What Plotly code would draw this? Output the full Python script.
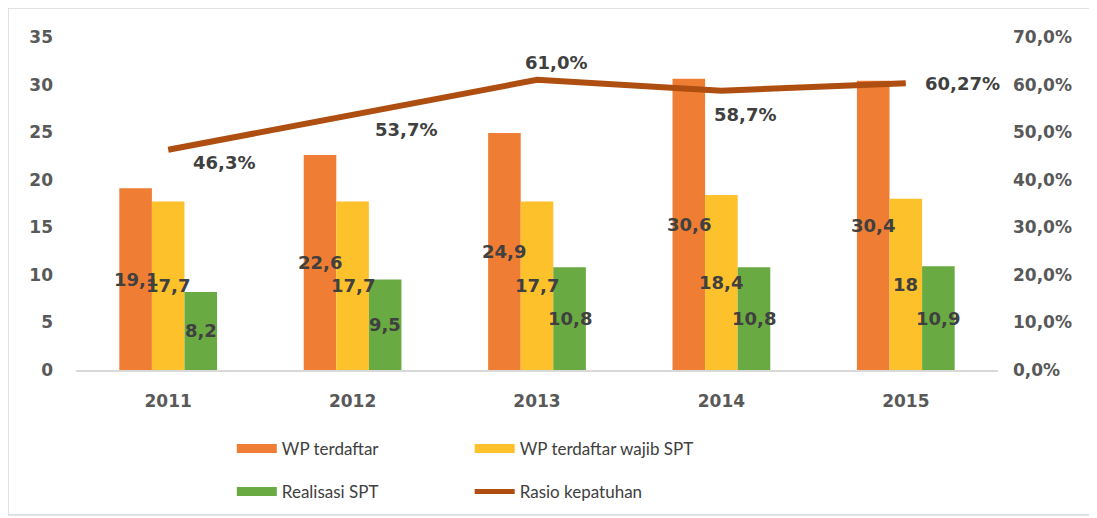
import plotly.graph_objects as go

years = ["2011", "2012", "2013", "2014", "2015"]
wp_terdaftar = [19.1, 22.6, 24.9, 30.6, 30.4]
wp_wajib_spt = [17.7, 17.7, 17.7, 18.4, 18.0]
realisasi_spt = [8.2, 9.5, 10.8, 10.8, 10.9]
rasio_kepatuhan = [46.3, 53.7, 61.0, 58.7, 60.27]

left_ticks = [0, 5, 10, 15, 20, 25, 30, 35]
right_ticks = [0, 10, 20, 30, 40, 50, 60, 70]

C_ORANGE = "#EF7D33"
C_YELLOW = "#FDC12B"
C_GREEN = "#69AB42"
C_LINE = "#AE4E10"
C_TEXT = "#404040"
C_TICK = "#595959"

W, H = 1097, 518
ML, MR, MT, MB = 68, 107, 29, 156
BARGAP = 0.47


def fmt_bar(v):
    s = ("%g" % v)
    return s.replace(".", ",")


def fmt_pct(v):
    s = f"{v:.2f}".rstrip("0")
    if s.endswith("."):
        s += "0"
    return s.replace(".", ",") + "%"


fig = go.Figure()

series = [
    ("WP terdaftar", wp_terdaftar, C_ORANGE),
    ("WP terdaftar wajib SPT", wp_wajib_spt, C_YELLOW),
    ("Realisasi SPT", realisasi_spt, C_GREEN),
]
for name, vals, col in series:
    fig.add_trace(go.Bar(
        x=years, y=vals, name=name, marker=dict(color=col, line=dict(width=0)),
        showlegend=False, hoverinfo="skip",
    ))

fig.add_trace(go.Scatter(
    x=years, y=rasio_kepatuhan, yaxis="y2", mode="lines",
    line=dict(color=C_LINE, width=6), showlegend=False, hoverinfo="skip",
))

# legend entries (no marks drawn)
legend_items = [
    ("WP terdaftar", C_ORANGE, 9, "legend", "g1"),
    ("Realisasi SPT", C_GREEN, 9, "legend", "g2"),
    ("WP terdaftar wajib SPT", C_YELLOW, 9, "legend2", "g3"),
    ("Rasio kepatuhan", C_LINE, 5, "legend2", "g4"),
]
for name, col, w, lg, grp in legend_items:
    fig.add_trace(go.Scatter(
        x=[years[0]], y=[None], mode="lines", name=name,
        line=dict(color=col, width=w), legend=lg, legendgroup=grp,
        showlegend=True, hoverinfo="skip",
    ))

label_font = dict(family="DejaVu Sans", size=18, color=C_TEXT, weight="bold")

# bar data labels, centred in each bar, drawn above all bars
bar_w = (W - ML - MR) / len(years) * (1 - BARGAP) / len(series)
for k, (name, vals, col) in enumerate(series):
    shift = (k - (len(series) - 1) / 2) * bar_w
    for i, v in enumerate(vals):
        fig.add_annotation(
            x=i, y=v / 2, xref="x", yref="y", text=fmt_bar(v), showarrow=False,
            xshift=shift, font=label_font,
        )

# line data labels (x given as category index)
offsets = [(56, -13), (53, -15), (19, 17), (24, -24), (57, 0)]
for i, (v, (dx, dy)) in enumerate(zip(rasio_kepatuhan, offsets)):
    fig.add_annotation(
        x=i, y=v, xref="x", yref="y2", text=fmt_pct(v), showarrow=False,
        xshift=dx, yshift=dy, font=label_font,
    )

# frame border (figure pixel coords -> paper coords)
pw, ph = W - ML - MR, H - MT - MB
fig.add_shape(type="rect", xref="paper", yref="paper",
              x0=(0 - ML) / pw, x1=(1085 - ML) / pw,
              y0=(H - MB - 507) / ph, y1=(H - MB - 0) / ph,
              line=dict(color="#D9D9D9", width=1.5), layer="below")

tick_font = dict(family="DejaVu Sans", size=17, color=C_TICK, weight="bold")
legend_font = dict(family="Lato", size=17, color=C_TEXT)
fig.update_layout(
    width=W, height=H,
    margin=dict(l=ML, r=MR, t=MT, b=MB, autoexpand=False),
    paper_bgcolor="white", plot_bgcolor="white",
    separators=",.",
    barmode="group", bargap=BARGAP, bargroupgap=0,
    xaxis=dict(
        type="category", categoryorder="array", categoryarray=years,
        range=[-0.5, len(years) - 0.5],
        showgrid=False, showline=True, linecolor="#D9D9D9",
        linewidth=1.5, ticks="", ticklabelstandoff=15, tickfont=tick_font,
    ),
    yaxis=dict(
        range=[0, 35], tickvals=left_ticks, showgrid=False, zeroline=False,
        showline=False, ticklabelstandoff=22, tickfont=tick_font,
    ),
    yaxis2=dict(
        range=[0, 70], tickvals=right_ticks,
        ticktext=[f"{t:.1f}".replace(".", ",") + "%" for t in right_ticks],
        overlaying="y", side="right", showgrid=False, zeroline=False,
        showline=False, ticklabelstandoff=14, tickfont=tick_font,
    ),
    legend=dict(orientation="v", x=0.169, xanchor="left", y=-0.183, yanchor="top",
                font=legend_font, tracegroupgap=18, itemwidth=40,
                bgcolor="rgba(0,0,0,0)"),
    legend2=dict(orientation="v", x=0.427, xanchor="left", y=-0.183, yanchor="top",
                 font=legend_font, tracegroupgap=18, itemwidth=40,
                 bgcolor="rgba(0,0,0,0)"),
)

fig.write_html("out.html")
